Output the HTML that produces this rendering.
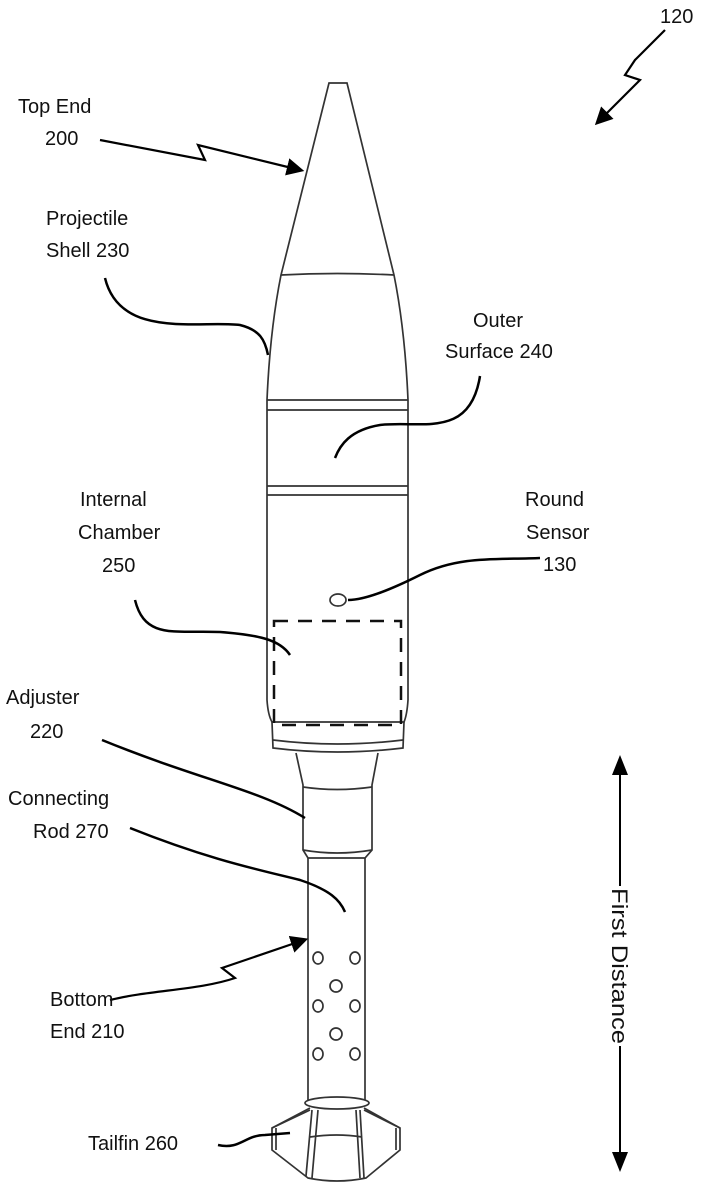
<!DOCTYPE html>
<html><head><meta charset="utf-8"><style>
body{margin:0;background:#fff}
svg{display:block}
text{font-family:"Liberation Sans",sans-serif;font-size:20px;fill:#111}
</style></head><body>
<svg width="706" height="1200" viewBox="0 0 706 1200">
<defs><marker id="a" markerWidth="8" markerHeight="8" refX="6" refY="4" orient="auto" markerUnits="strokeWidth"><path d="M0,0 L8,4 L0,8 Z" fill="#000"/></marker></defs>
<g fill="none" stroke="#333" stroke-width="1.7">
<path d="M329,83 L347,83 L394,275 Q405,330 408,400 L408,700 Q407,715 404,722 L272,722 Q268,715 267,700 L267,400 Q270,330 281,275 Z" fill="#fff"/>
<path d="M281,275 Q337,272 394,275"/>
<line x1="267" y1="400" x2="408" y2="400"/><line x1="267" y1="410" x2="408" y2="410"/>
<line x1="267" y1="486" x2="408" y2="486"/><line x1="267" y1="495" x2="408" y2="495"/>
<path d="M272,722 L273,748 Q337,756 403,748 L404,722"/>
<path d="M273,740 Q337,748 403,740"/>
<path d="M296,753 L303,785 L303,850 L308,858 L365,858 L372,850 L372,785 L378,753"/>
<path d="M303,787 Q337,792 372,787"/>
<path d="M303,850 Q337,856 372,850"/>
<line x1="308" y1="858" x2="308" y2="1100"/><line x1="365" y1="858" x2="365" y2="1100"/>
<ellipse cx="337" cy="1103" rx="32" ry="6" fill="#fff"/>
<path d="M310,1108 L272,1128 L272,1150 L308,1178 Q337,1184 366,1178 L400,1150 L400,1128 L364,1108"/>
<path d="M276,1128 L276,1150 M396,1128 L396,1150"/>
<path d="M312,1110 L306,1176 M318,1110 L312,1178 M360,1110 L364,1178 M356,1110 L360,1178"/>
<path d="M310,1137 Q337,1133 362,1137"/>
<path d="M272,1128 L310,1110 M400,1128 L364,1110"/>
</g>
<g fill="#fff" stroke="#333" stroke-width="1.7">
<ellipse cx="318" cy="958" rx="5" ry="6"/><ellipse cx="355" cy="958" rx="5" ry="6"/>
<ellipse cx="336" cy="986" rx="6" ry="6"/>
<ellipse cx="318" cy="1006" rx="5" ry="6"/><ellipse cx="355" cy="1006" rx="5" ry="6"/>
<ellipse cx="336" cy="1034" rx="6" ry="6"/>
<ellipse cx="318" cy="1054" rx="5" ry="6"/><ellipse cx="355" cy="1054" rx="5" ry="6"/>
<ellipse cx="338" cy="600" rx="8" ry="6"/>
</g>
<rect x="274" y="621" width="127" height="104" fill="none" stroke="#111" stroke-width="2.5" stroke-dasharray="14,10"/>
<g fill="none" stroke="#000" stroke-width="2.5">
<path d="M100,140 L205,160 L198,145 L300,170" marker-end="url(#a)" stroke-width="2.2"/>
<path d="M105,278 C120,340 200,320 240,325 C260,330 265,340 268,355"/>
<path d="M480,376 C470,440 420,420 380,425 C350,430 340,445 335,458"/>
<path d="M540,558 C500,560 460,555 420,575 C390,590 365,600 348,600"/>
<path d="M135,600 C145,640 175,630 220,632 C260,635 280,640 290,655"/>
<path d="M102,740 C200,780 260,790 305,818"/>
<path d="M130,828 C210,860 260,870 300,880 C330,890 340,900 345,912"/>
<path d="M110,1000 C150,990 200,990 235,978 L222,968 L304,940" marker-end="url(#a)" stroke-width="2.2"/>
<path d="M218,1145 C240,1150 245,1135 265,1135 L290,1133"/>
<path d="M665,30 L635,60 L625,75 L640,80 L598,122" marker-end="url(#a)" stroke-width="2.2"/>
<path d="M620,775 L620,886 M620,1046 L620,1162" stroke-width="2"/>
<path d="M620,755 L612,775 L628,775 Z M620,1172 L612,1152 L628,1152 Z" fill="#000" stroke="none"/>
</g>
<text x="612" y="888" transform="rotate(90 612 888)" textLength="156" lengthAdjust="spacingAndGlyphs" style="font-size:22px">First Distance</text>
<text x="660" y="23">120</text>
<text x="18" y="113">Top End</text><text x="45" y="145">200</text>
<text x="46" y="225">Projectile</text><text x="46" y="257">Shell 230</text>
<text x="473" y="327">Outer</text><text x="445" y="358">Surface 240</text>
<text x="80" y="506">Internal</text><text x="78" y="539">Chamber</text><text x="102" y="572">250</text>
<text x="525" y="506">Round</text><text x="526" y="539">Sensor</text><text x="543" y="571">130</text>
<text x="6" y="704">Adjuster</text><text x="30" y="738">220</text>
<text x="8" y="805">Connecting</text><text x="33" y="838">Rod 270</text>
<text x="50" y="1006">Bottom</text><text x="50" y="1038">End 210</text>
<text x="88" y="1150">Tailfin 260</text>
</svg>
</body></html>
